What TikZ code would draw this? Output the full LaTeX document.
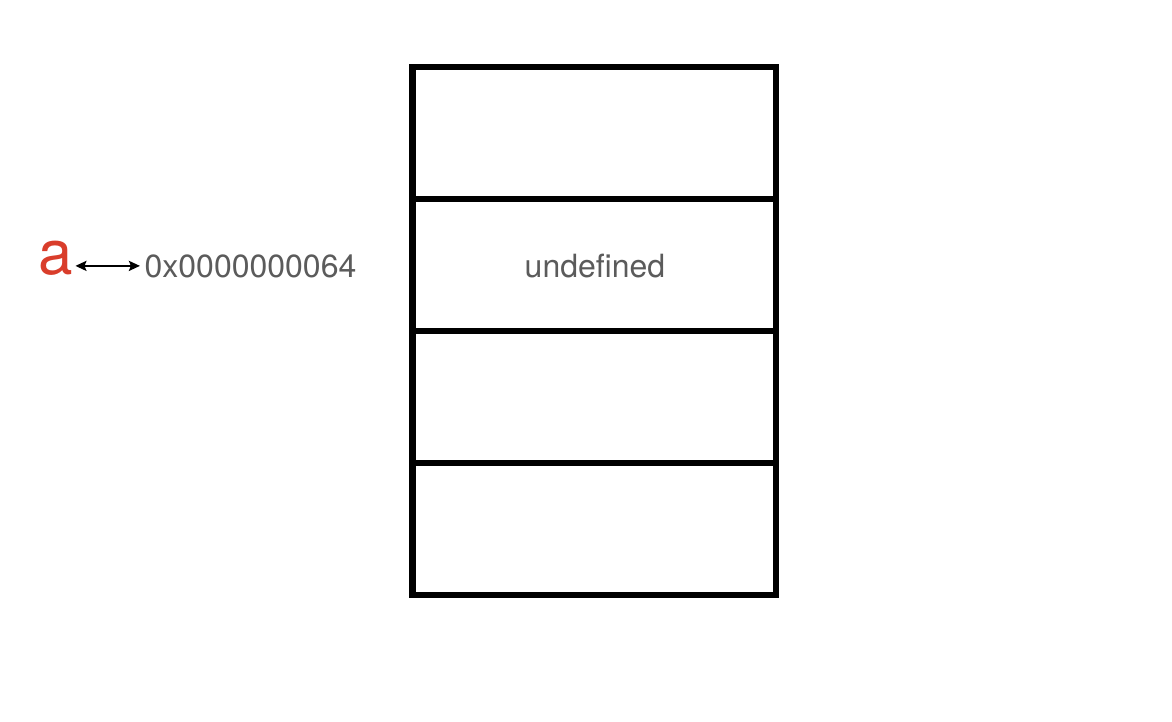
\documentclass[tikz,border=0pt]{standalone}
\usepackage{fontspec}
\setmainfont{TeX Gyre Heros}
\usetikzlibrary{arrows.meta}
\definecolor{txtgray}{HTML}{5B5B5B}
\definecolor{varred}{HTML}{D93D2B}
\tikzset{
  cell/.style={draw=black, line width=6.5pt, minimum width=363.5pt, minimum height=132pt,
    inner sep=0pt, text=txtgray, font=\fontsize{32}{38}\selectfont},
  addrtext/.style={text=txtgray, inner sep=0pt, font=\fontsize{32}{38}\selectfont},
  vartext/.style={text=varred, inner sep=0pt, font=\fontsize{62}{70}\selectfont},
  refarrow/.style={{Stealth[length=11pt,width=10pt,inset=2pt]}-{Stealth[length=11pt,width=10pt,inset=2pt]}, line width=2.2pt, black}
}
\begin{document}
\begin{tikzpicture}[x=1pt,y=-1pt]
\useasboundingbox (0,0) rectangle (1172,722);
\node[cell] (c1) at (594,133) {};
\node[cell] (c2) at (594,265) {};
\node[text=txtgray, inner sep=0pt, font=\fontsize{32}{38}\selectfont, anchor=base] (undef) at (595,277) {undefined};
\node[cell] (c3) at (594,397) {};
\node[cell] (c4) at (594,529) {};
\node[vartext, anchor=base] (a) at (56,274) {a};
\node[addrtext, anchor=base] (addr) at (250.5,277) {0x0000000064};
\draw[refarrow, shorten <=2pt, shorten >=4.5pt] (a.east |- addr.west) -- (addr.west);
\end{tikzpicture}
\end{document}
